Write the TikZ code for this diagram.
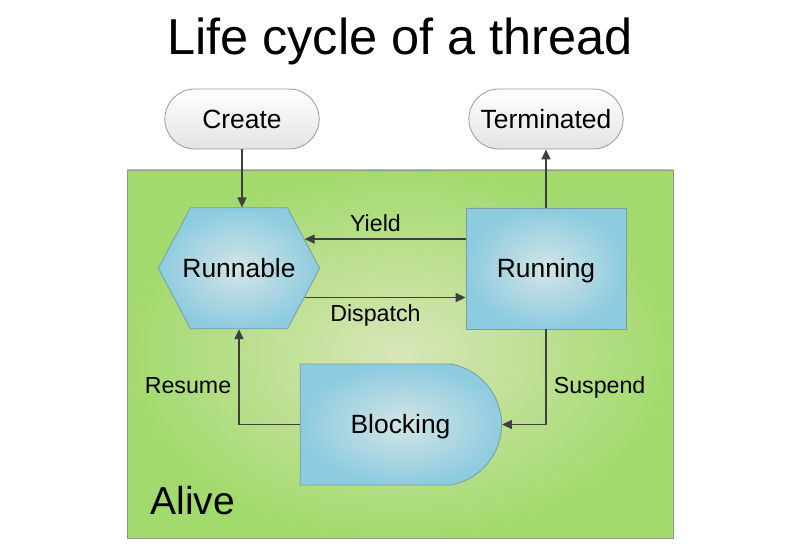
\documentclass[tikz,border=0pt]{standalone}
\usepackage{fontspec}
\setmainfont{Liberation Sans}
\usetikzlibrary{shapes.misc, shapes.symbols, arrows.meta, positioning, calc}
\definecolor{alivegreen}{HTML}{A3DA6E}
\definecolor{alivelight}{HTML}{D8E6B8}
\definecolor{aliveedge}{HTML}{8C9C84}
\definecolor{stateblue}{HTML}{8DCBE0}
\definecolor{statelight}{HTML}{D3E5E5}
\definecolor{stateedge}{HTML}{7D9BA4}
\definecolor{flowline}{HTML}{3F3F3F}
\tikzstyle{state} = [draw=stateedge, line width=0.8pt, inner color=statelight, outer color=stateblue, minimum height=121pt, text height=18.9pt, text depth=0pt, font=\fontsize{26.4}{30}\selectfont]
\tikzstyle{terminal} = [rounded rectangle, draw=gray!80, line width=0.8pt, top color=white, bottom color=gray!22, minimum width=161pt, minimum height=60pt, text height=18.9pt, text depth=0pt, font=\fontsize{26.4}{30}\selectfont]
\tikzstyle{flow} = [-{Triangle[length=10pt, width=9pt]}, draw=flowline, line width=1.6pt]
\tikzstyle{flowlabel} = [inner sep=7pt, text height=16.6pt, text depth=0pt, font=\fontsize{23.2}{28}\selectfont]

\begin{document}
\begin{tikzpicture}[x=1pt, y=-1pt]
		\useasboundingbox (0,0) rectangle (800,556);
		
		\node[anchor=base, font=\fontsize{50.5}{58}\selectfont] (title) at (400,55) {Life cycle of a thread};
		
		% the alive region
		\draw[draw=aliveedge, line width=0.8pt, inner color=alivelight, outer color=alivegreen] (127,170) rectangle (673,538);
		\node[anchor=base west, font=\fontsize{39}{46}\selectfont] (alive) at (147,514) {Alive};
		
		\node[terminal] (create) at (242,119) {Create};
		\node[terminal] (terminated) at (546,119) {Terminated};
		
		\node[state, signal, signal to=west and east, signal pointer angle=124, inner xsep=-8pt] (runnable) at (239,268.3) {Runnable};
		\node[state, rectangle, minimum width=160pt] (running) at (546,268.5) {Running};
		\node[state, rounded rectangle, rounded rectangle left arc=none, rounded rectangle arc length=160, minimum width=208pt] (blocking) at (400.5,424.5) {Blocking};
		
		\draw[flow] (create.south) -- (create.south |- runnable.north);
		\draw[flow] (running.north) -- (terminated.south);
		\draw[flow] (runnable.24 -| running.west) -- node[flowlabel, above, pos=0.56] {Yield} (runnable.24);
		\draw[flow] (runnable.-24) -- node[flowlabel, below, pos=0.44] {Dispatch} (runnable.-24 -| running.west);
		\draw[flow] (blocking.west) -| node[flowlabel, left, pos=0.705] {Resume} (runnable.south);
		\draw[flow] (running.south) |- node[flowlabel, right, pos=0.293] {Suspend} (blocking.east);
		
	\end{tikzpicture}
\end{document}
